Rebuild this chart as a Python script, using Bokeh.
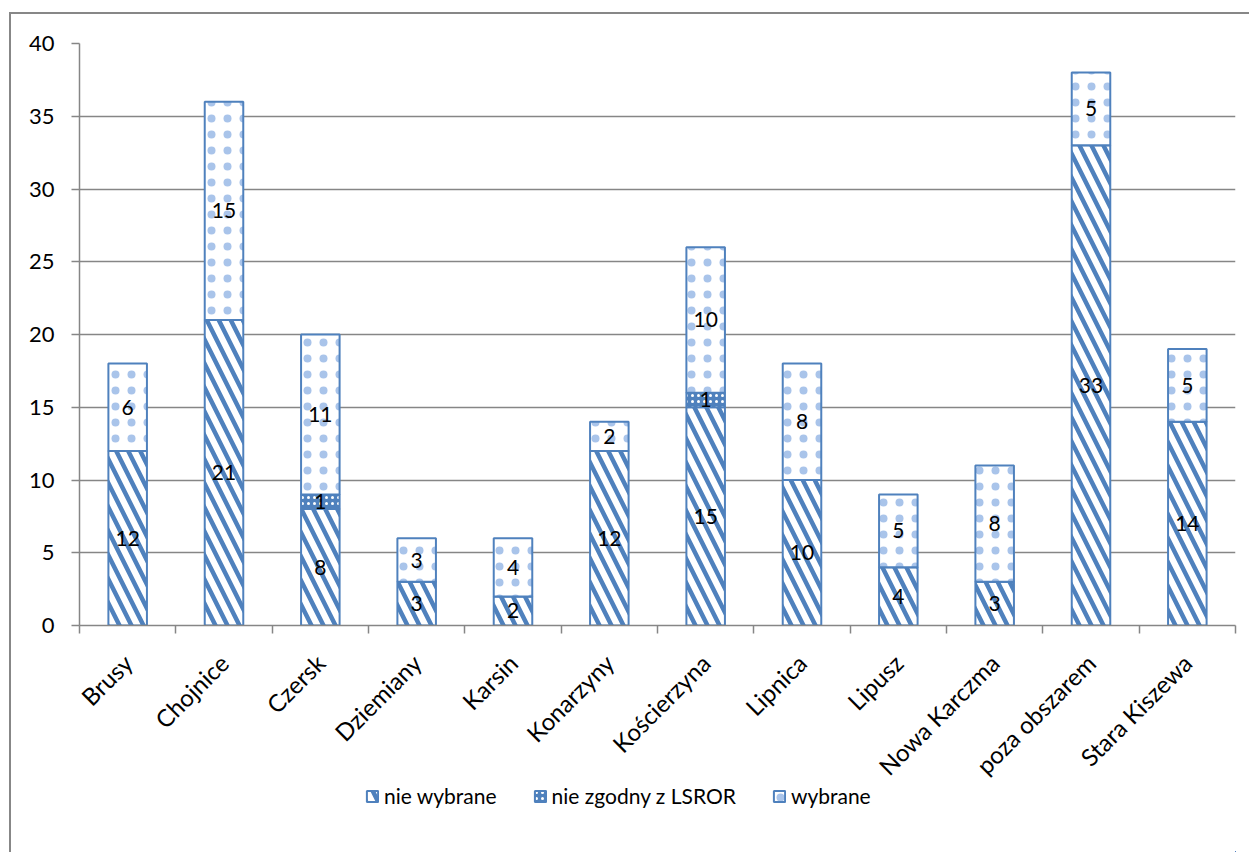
from bokeh.plotting import figure
from bokeh.layouts import column
from bokeh.models import (ColumnDataSource, FixedTicker, Range1d, Legend, LegendItem, LabelSet)
from bokeh.core.properties import value
from bokeh.embed import file_html
from bokeh.resources import INLINE

categories = ["Brusy", "Chojnice", "Czersk", "Dziemiany", "Karsin", "Konarzyny",
              "Kościerzyna", "Lipnica", "Lipusz", "Nowa Karczma", "poza obszarem", "Stara Kiszewa"]
nie_wybrane = [12, 21, 8, 3, 2, 12, 15, 10, 4, 3, 33, 14]
nie_zgodny = [0, 0, 1, 0, 0, 0, 1, 0, 0, 0, 0, 0]
wybrane = [6, 15, 11, 3, 4, 2, 10, 8, 5, 8, 5, 5]
series_names = ["nie wybrane", "nie zgodny z LSROR", "wybrane"]
y_ticks = [0, 5, 10, 15, 20, 25, 30, 35, 40]

FONT = "Lato"
FS = "21px"
BLUE = "#4f81bd"
GRAY = "#868686"

style = dict(fill_color=["white", BLUE, "white"],
             line_color=BLUE, line_width=2,
             hatch_pattern=["\\", "dot", "dot"],
             hatch_color=[BLUE, "white", "#a9c4ea"],
             hatch_scale=[24, 6, 16],
             hatch_weight=[4.5, 1.0, 0.3])

xs = [i + 0.5 for i in range(len(categories))]
src = ColumnDataSource(dict(x=xs, nw=nie_wybrane, nz=nie_zgodny, w=wybrane))

p = figure(width=1238, height=780, output_backend="svg", toolbar_location=None,
           x_range=Range1d(0, len(categories)), y_range=Range1d(0, 40),
           min_border_left=68, min_border_right=14, min_border_top=29, min_border_bottom=169)
p.outline_line_color = None
p.background_fill_color = "white"

renderers = p.vbar_stack(["nw", "nz", "w"], x="x", width=0.4, source=src, **style)

# data labels
lx, ly, lt = [], [], []
for i in range(len(categories)):
    bottom = 0
    for vals in (nie_wybrane, nie_zgodny, wybrane):
        v = vals[i]
        if v > 0:
            lx.append(xs[i]); ly.append(bottom + v / 2); lt.append(str(v))
        bottom += v
lsrc = ColumnDataSource(dict(x=lx, y=ly, t=lt))
p.add_layout(LabelSet(x="x", y="y", text="t", source=lsrc, text_align="center",
                      text_baseline="middle", text_font=value(FONT), text_font_size=value(FS),
                      text_color="black"))

# axes
xa = p.xaxis[0]
xa.ticker = FixedTicker(ticks=xs, minor_ticks=list(range(len(categories) + 1)))
xa.major_label_overrides = {x: c for x, c in zip(xs, categories)}
xa.major_label_orientation = 0.785398
xa.major_tick_out = 0
xa.major_tick_in = 0
xa.minor_tick_out = 8
xa.minor_tick_in = 0
xa.minor_tick_line_color = GRAY
xa.minor_tick_line_width = 1.5
xa.axis_line_color = GRAY
xa.axis_line_width = 1.5
xa.major_label_text_font = FONT
xa.major_label_text_font_size = "24px"
xa.major_label_text_color = "black"
xa.major_label_standoff = 25

ya = p.yaxis[0]
ya.ticker = FixedTicker(ticks=y_ticks)
ya.major_tick_out = 8
ya.major_tick_in = 0
ya.minor_tick_out = 0
ya.minor_tick_in = 0
ya.major_tick_line_color = GRAY
ya.major_tick_line_width = 1.5
ya.axis_line_color = GRAY
ya.axis_line_width = 1.5
ya.major_label_text_font = FONT
ya.major_label_text_font_size = "22px"
ya.major_label_text_color = "black"
ya.major_label_standoff = 17

p.xgrid.grid_line_color = None
p.ygrid.grid_line_color = GRAY
p.ygrid.grid_line_width = 1.5
p.ygrid.ticker = FixedTicker(ticks=y_ticks[1:])

# legend strip (its bars lie outside its visible ranges; only the legend shows)
p2 = figure(width=1238, height=88, output_backend="svg", toolbar_location=None,
            x_range=Range1d(-101, -100), y_range=Range1d(100, 101), min_border=0,
            x_axis_location=None, y_axis_location=None)
p2.grid.grid_line_color = None
p2.outline_line_color = None
p2.background_fill_color = None
p2.border_fill_color = None
p2.styles = {"margin-top": "-30px"}
items = []
for k, (name, col) in enumerate(zip(series_names, ["nw", "nz", "w"])):
    kw = {key: (val[k] if isinstance(val, list) else val) for key, val in style.items()}
    r = p2.vbar(x="x", top=col, width=0.4, source=src, **kw)
    items.append(LegendItem(label=name, renderers=[r]))
legend = Legend(items=items, orientation="horizontal", location=(286, 44),
                label_text_font=FONT, label_text_font_size=FS, label_text_color="black",
                glyph_width=14, glyph_height=14, spacing=36, label_standoff=5,
                border_line_color=None, background_fill_color=None, margin=0, padding=0)
p2.add_layout(legend, "center")

lay = column(p, p2, spacing=0)
lay.styles = {"border-left": "2px solid #878787", "border-top": "2px solid #878787",
              "margin-left": "9px", "margin-top": "12px"}

open("out.html", "w").write(file_html(lay, INLINE))
